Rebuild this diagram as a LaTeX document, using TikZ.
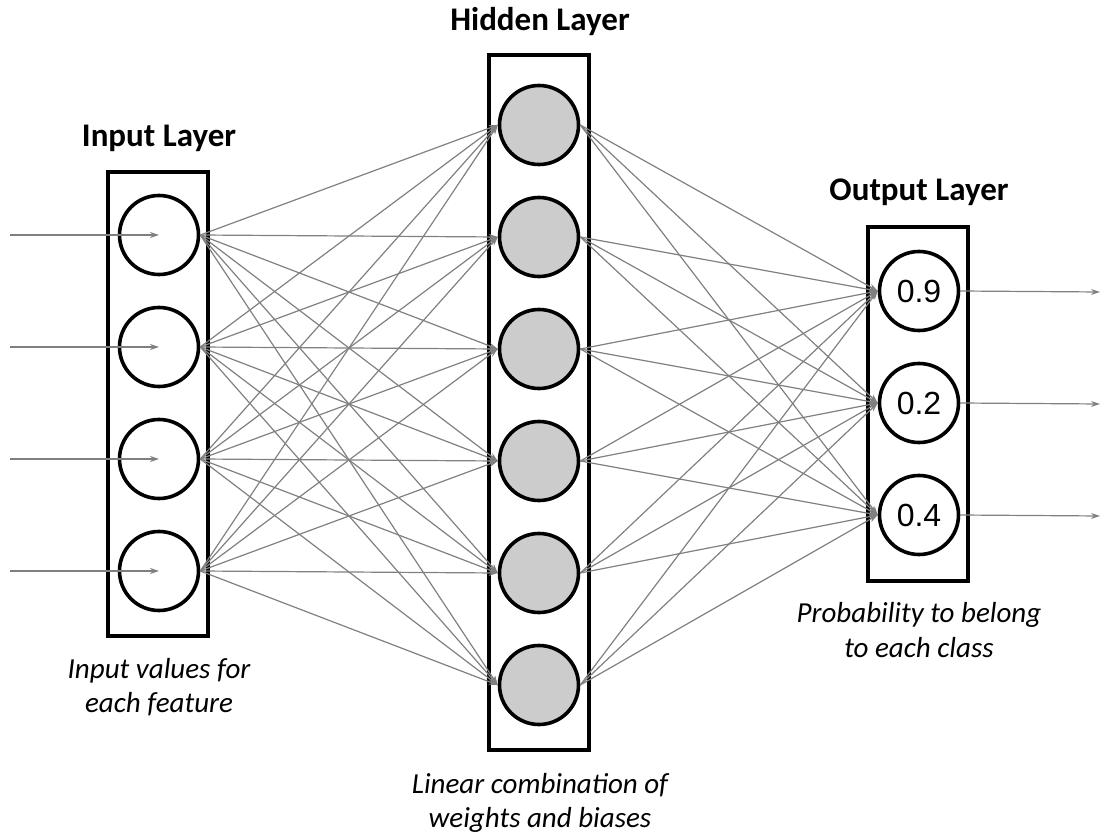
\documentclass[tikz,border=0pt]{standalone}
\usepackage{fontspec}
\setmainfont{Carlito}
\newfontfamily\numfont{Liberation Sans}
\usetikzlibrary{arrows.meta}
\tikzset{
  layerbox/.style={draw=black, line width=3.8pt},
  neuron/.style={circle, draw=black, line width=3.6pt, minimum size=79pt, inner sep=0pt},
  hneuron/.style={neuron, fill=black!20},
  conn/.style={draw=black!50, line width=1.2pt, -{Stealth[length=9pt,width=6pt]}},
  title/.style={font=\fontsize{33}{40}\selectfont\bfseries, anchor=base},
  note/.style={font=\fontsize{29}{35}\selectfont\itshape, anchor=base, align=center},
  numtxt/.style={font=\numfont\fontsize{32}{38}\selectfont}
}
\begin{document}
\begin{tikzpicture}[x=1pt,y=-1pt]
\useasboundingbox (0,0) rectangle (1101,834);
% boxes
\draw[layerbox] (108,172) rectangle (208,636);
\draw[layerbox] (489,55) rectangle (589,750);
\draw[layerbox] (868,227) rectangle (968,581);
% titles
\node[title] (tin) at (159,147) {Input Layer};
\node[title] (thid) at (540,31) {Hidden Layer};
\node[title] (tout) at (919,201) {Output Layer};
% notes
\node[note] (nin1) at (159,678) {Input values for};
\node[note] (nin2) at (159,712) {each feature};
\node[note] (nhid1) at (540,793) {Linear combination of};
\node[note] (nhid2) at (540,827) {weights and biases};
\node[note] (nout1) at (919,622) {Probability to belong};
\node[note] (nout2) at (919,657) {to each class};
% input neurons
\foreach \i/\y in {1/235,2/347,3/459,4/571}{
  \node[neuron] (in\i) at (159,\y) {};
  \coordinate (s\i) at (10,\y);
}
% hidden neurons
\foreach \j/\y in {1/125,2/237,3/349,4/461,5/573,6/685}{
  \node[hneuron] (h\j) at (539,\y) {};
}
% output neurons
\node[neuron] (o1) at (919,291) {\numfont\fontsize{32}{38}\selectfont 0.9};
\node[neuron] (o2) at (919,403) {\numfont\fontsize{32}{38}\selectfont 0.2};
\node[neuron] (o3) at (919,515) {\numfont\fontsize{32}{38}\selectfont 0.4};
\coordinate (t1) at (1100,292);
\coordinate (t2) at (1100,404);
\coordinate (t3) at (1100,516);
% input arrows
\foreach \i in {1,...,4}{
  \draw[conn] (s\i) -- (in\i.center);
}
% input -> hidden
\foreach \i in {1,...,4}{
  \foreach \j in {1,...,6}{
    \draw[conn] (in\i.east) -- (h\j.west);
  }
}
% hidden -> output
\foreach \j in {1,...,6}{
  \foreach \k in {1,2,3}{
    \draw[conn] (h\j.east) -- (o\k.west);
  }
}
% output arrows
\foreach \k in {1,2,3}{
  \draw[conn] (o\k.east) -- (t\k);
}
\end{tikzpicture}
\end{document}
